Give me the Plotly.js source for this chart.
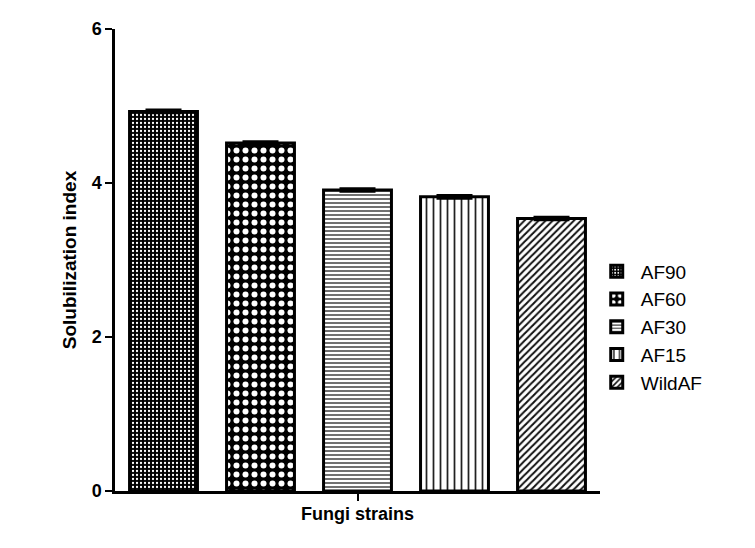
<!DOCTYPE html>
<html>
<head>
<meta charset="utf-8">
<script src="https://cdn.plot.ly/plotly-3.0.1.min.js"></script>
<style>
  html, body { margin: 0; padding: 0; background: #fff; }
  #chart { width: 755px; height: 548px; }
</style>
</head>
<body>
<div id="chart"></div>
<script>
// Solubilization index per fungi strain
const strains = ['AF90', 'AF60', 'AF30', 'AF15', 'WildAF'];
const solIndex = [4.93, 4.52, 3.91, 3.82, 3.54];
const solErr = [0.02, 0.02, 0.02, 0.02, 0.02];

// fill pattern for each bar (black & white, like the original print)
const patterns = [
    { shape: '.', bgcolor: '#000', fgcolor: '#fff', size: 4, solidity: 0.25 },
    { shape: '.', bgcolor: '#000', fgcolor: '#fff', size: 9, solidity: 0.35 },
    { shape: '-', bgcolor: '#fff', fgcolor: '#333', size: 4, solidity: 0.35 },
    { shape: '|', bgcolor: '#fff', fgcolor: '#222', size: 7, solidity: 0.25 },
    { shape: '/', bgcolor: '#fff', fgcolor: '#111', size: 5, solidity: 0.4 }
];

const FONT = 'Arial, "Liberation Sans", sans-serif';

const data = strains.map((s, i) => ({
    type: 'bar',
    name: s,
    x: [s],
    y: [solIndex[i]],
    width: 0.7,
    marker: {
        color: '#fff',
        pattern: patterns[i],
        line: { color: '#000', width: 3 }
    },
    error_y: {
        type: 'data',
        array: [solErr[i]],
        visible: true,
        color: '#000',
        thickness: 2.5,
        width: 18
    }
}));

const layout = {
    width: 755,
    height: 548,
    margin: { l: 115, r: 155, t: 29, b: 57 },
    barmode: 'overlay',
    paper_bgcolor: '#fff',
    plot_bgcolor: '#fff',
    font: { family: FONT, color: '#000' },
    showlegend: true,
    legend: {
        x: 0.985, xanchor: 'left',
        y: 0.355, yanchor: 'middle',
        font: { size: 19, family: FONT },
        tracegroupgap: 0,
        itemwidth: 38
    },
    xaxis: {
        type: 'category',
        categoryorder: 'array',
        categoryarray: strains,
        range: [-0.5, 4.5],
        showline: true,
        linecolor: '#000',
        linewidth: 2.5,
        showgrid: false,
        zeroline: false,
        tickmode: 'array',
        tickvals: [strains[2]],
        ticktext: [''],
        ticks: 'outside',
        ticklen: 7,
        tickwidth: 2,
        tickcolor: '#000',
        title: {
            text: '<b>Fungi strains</b>',
            font: { size: 18, family: FONT },
            standoff: 6
        }
    },
    yaxis: {
        range: [0, 6],
        showline: true,
        linecolor: '#000',
        linewidth: 2.5,
        showgrid: false,
        zeroline: false,
        tickvals: [0, 2, 4, 6],
        ticktext: ['<b>0</b>', '<b>2</b>', '<b>4</b>', '<b>6</b>'],
        ticks: 'outside',
        ticklen: 7,
        tickwidth: 2,
        tickcolor: '#000',
        tickfont: { size: 18, family: FONT },
        title: {
            text: '<b>Solubilization index</b>',
            font: { size: 19, family: FONT },
            standoff: 10
        }
    }
};

Plotly.newPlot('chart', data, layout, { displayModeBar: false, responsive: false });
</script>
</body>
</html>
